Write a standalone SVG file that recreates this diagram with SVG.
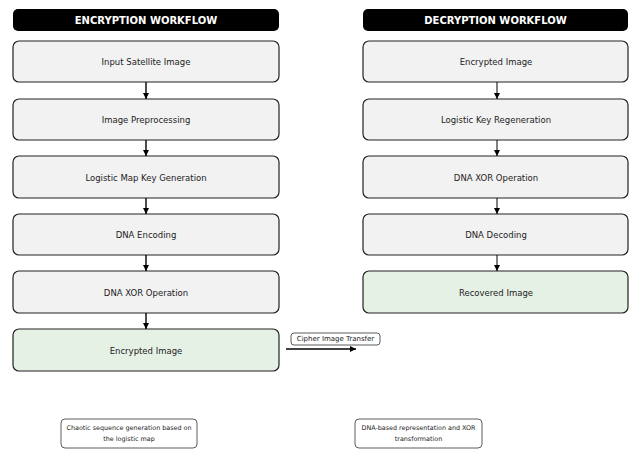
<svg xmlns="http://www.w3.org/2000/svg" width="629" height="449" viewBox="0 0 629 449">
<defs>
<marker id="ah" viewBox="0 0 10 10" refX="10" refY="5" markerWidth="6" markerHeight="6" orient="auto" markerUnits="userSpaceOnUse"><path d="M0,0 L10,5 L0,10 z" fill="#000"/></marker>
<marker id="ah2" viewBox="0 0 10 10" refX="10" refY="5" markerWidth="7" markerHeight="6" orient="auto" markerUnits="userSpaceOnUse"><path d="M0,0 L10,5 L0,10 z" fill="#000"/></marker>
</defs>
<style>
text{font-family:"DejaVu Sans",Verdana,sans-serif;font-size:8.5px;fill:#222;text-anchor:middle;dominant-baseline:central}
.hd rect{fill:#000}
.hd text{fill:#fff;font-weight:bold;font-size:10px}
.bx{fill:#f2f2f2;stroke:#222;stroke-width:1.2}
.gr{fill:#e6f1e6;stroke:#222;stroke-width:1.2}
.note rect{fill:#fff;stroke:#333;stroke-width:0.8}
.note text{font-size:6.4px}
.conn line{stroke:#000;stroke-width:1.4}
</style>
<g id="hdr-enc" class="hd"><rect x="13" y="9" width="266" height="22" rx="5"/><text x="146" y="20.5">ENCRYPTION WORKFLOW</text></g>
<g id="hdr-dec" class="hd"><rect x="363" y="9" width="265" height="22" rx="5"/><text x="495.5" y="20.5">DECRYPTION WORKFLOW</text></g>

<g id="e1"><rect class="bx" x="13" y="41" width="266" height="41" rx="6"/><text x="146" y="62">Input Satellite Image</text></g>
<g id="e2"><rect class="bx" x="13" y="99" width="266" height="41" rx="6"/><text x="146" y="120">Image Preprocessing</text></g>
<g id="e3"><rect class="bx" x="13" y="156" width="266" height="42" rx="6"/><text x="146" y="178">Logistic Map Key Generation</text></g>
<g id="e4"><rect class="bx" x="13" y="214" width="266" height="41" rx="6"/><text x="146" y="235">DNA Encoding</text></g>
<g id="e5"><rect class="bx" x="13" y="271" width="266" height="42" rx="6"/><text x="146" y="293">DNA XOR Operation</text></g>
<g id="e6"><rect class="gr" x="13" y="329" width="266" height="42" rx="6"/><text x="146" y="351">Encrypted Image</text></g>

<g id="d1"><rect class="bx" x="363" y="41" width="265" height="41" rx="6"/><text x="496" y="62">Encrypted Image</text></g>
<g id="d2"><rect class="bx" x="363" y="99" width="265" height="41" rx="6"/><text x="496" y="120">Logistic Key Regeneration</text></g>
<g id="d3"><rect class="bx" x="363" y="156" width="265" height="42" rx="6"/><text x="496" y="178">DNA XOR Operation</text></g>
<g id="d4"><rect class="bx" x="363" y="214" width="265" height="41" rx="6"/><text x="496" y="235">DNA Decoding</text></g>
<g id="d5"><rect class="gr" x="363" y="271" width="265" height="42" rx="6"/><text x="496" y="293">Recovered Image</text></g>

<g id="connectors" class="conn">
<line x1="146" y1="82" x2="146" y2="99" marker-end="url(#ah)"/>
<line x1="146" y1="140" x2="146" y2="156" marker-end="url(#ah)"/>
<line x1="146" y1="198" x2="146" y2="214" marker-end="url(#ah)"/>
<line x1="146" y1="255" x2="146" y2="271" marker-end="url(#ah)"/>
<line x1="146" y1="313" x2="146" y2="329" marker-end="url(#ah)"/>
<line x1="497" y1="82" x2="497" y2="99" marker-end="url(#ah)" style="stroke-width:1"/>
<line x1="497" y1="140" x2="497" y2="156" marker-end="url(#ah)" style="stroke-width:1"/>
<line x1="497" y1="198" x2="497" y2="214" marker-end="url(#ah)" style="stroke-width:1"/>
<line x1="497" y1="255" x2="497" y2="271" marker-end="url(#ah)" style="stroke-width:1"/>
<line x1="286" y1="349" x2="356" y2="349" marker-end="url(#ah2)"/>
<g id="lbl-transfer" class="note"><rect x="291" y="333" width="89" height="12" rx="3"/><text x="335.5" y="339" style="font-size:7px">Cipher Image Transfer</text></g>
</g>

<g id="note1" class="note"><rect x="61" y="419" width="136" height="29" rx="4"/><text x="129" y="427.5">Chaotic sequence generation based on</text><text x="129" y="439">the logistic map</text></g>
<g id="note2" class="note"><rect x="355" y="419" width="127" height="29" rx="4"/><text x="418.5" y="427.5">DNA-based representation and XOR</text><text x="418.5" y="439">transformation</text></g>
</svg>
